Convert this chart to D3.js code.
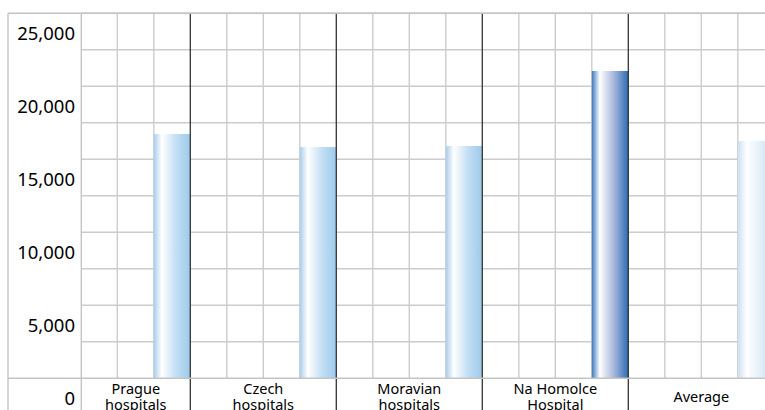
<!DOCTYPE html>
<html>
<head>
<meta charset="utf-8">
<script src="https://cdn.jsdelivr.net/npm/d3@7"></script>
<style>
  html, body { margin: 0; padding: 0; background: #fff; }
  svg { display: block; font-family: "Noto Sans", "Open Sans", sans-serif; }
</style>
</head>
<body>
<svg id="chart" width="765" height="410"></svg>
<script>
// data
const categories = ['Prague hospitals', 'Czech hospitals', 'Moravian hospitals', 'Na Homolce Hospital', 'Average'];
const labelLines = [['Prague', 'hospitals'], ['Czech', 'hospitals'], ['Moravian', 'hospitals'], ['Na Homolce', 'Hospital'], ['Average']];
const values = [16730, 15840, 15910, 21050, 16260];
const highlight = [false, false, false, true, false];
const yTicks = [0, 5000, 10000, 15000, 20000, 25000];

const svg = d3.select('#chart');
const frameLeft = 8, frameTop = 13.3, plotLeft = 81.3, baseY = 378.3, W = 765, H = 410;
const step = 36.5;

const y = d3.scaleLinear().domain([0, 25000]).range([baseY, frameTop]);
// first category is partly hidden behind the label column
const x = d3.scaleBand().domain(categories).range([190.3 - 4 * step, 190.3 + 16 * step]).padding(0);

const defs = svg.append('defs');
defs.append('clipPath').attr('id', 'plotclip')
  .append('rect').attr('x', plotLeft).attr('y', 0).attr('width', W - plotLeft).attr('height', H);

function grad(id, stops) {
  const g = defs.append('linearGradient').attr('id', id).attr('x1', 0).attr('x2', 1).attr('y1', 0).attr('y2', 0);
  stops.forEach(s => g.append('stop').attr('offset', s[0]).attr('stop-color', s[1]));
}
grad('gLight', [[0, '#a9cdec'], [0.22, '#ffffff'], [0.6, '#c4dff4'], [1, '#9ccaec']]);
grad('gDark', [[0, '#3a78bc'], [0.22, '#ffffff'], [0.6, '#a9b7dc'], [1, '#2d6cb3']]);
grad('gAvg', [[0, '#cde0f3'], [0.25, '#ffffff'], [1, '#c6def3']]);

const plot = svg.append('g').attr('clip-path', 'url(#plotclip)');

// horizontal grid every 2500
const hLines = d3.range(2500, 25001, 2500);
plot.selectAll('line.h').data(hLines).join('line')
  .attr('x1', plotLeft).attr('x2', W)
  .attr('y1', d => y(d)).attr('y2', d => y(d))
  .attr('stroke', '#cccccc').attr('stroke-width', 1.4);

// vertical minor grid (quarters of each category)
const minor = [];
categories.forEach(c => { for (let k = 1; k < 4; k++) minor.push(x(c) + k * x.bandwidth() / 4); });
plot.selectAll('line.v').data(minor).join('line')
  .attr('x1', d => d).attr('x2', d => d)
  .attr('y1', frameTop).attr('y2', baseY)
  .attr('stroke', '#cccccc').attr('stroke-width', 1.4);

// bars in the last quarter of each category
plot.selectAll('rect.bar').data(values).join('rect')
  .attr('x', (d, i) => x(categories[i]) + 3 * x.bandwidth() / 4)
  .attr('width', x.bandwidth() / 4)
  .attr('y', d => y(d))
  .attr('height', d => baseY - y(d))
  .attr('fill', (d, i) => highlight[i] ? 'url(#gDark)' : (i === categories.length - 1 ? 'url(#gAvg)' : 'url(#gLight)'));

// category separators
plot.selectAll('line.sep').data(categories.slice(1)).join('line')
  .attr('x1', d => x(d)).attr('x2', d => x(d))
  .attr('y1', frameTop).attr('y2', H)
  .attr('stroke', '#333333').attr('stroke-width', 1.3);

// frame
svg.append('line').attr('x1', frameLeft).attr('x2', W).attr('y1', frameTop).attr('y2', frameTop)
  .attr('stroke', '#c4c4c4').attr('stroke-width', 1.4);
svg.append('line').attr('x1', frameLeft).attr('x2', W).attr('y1', baseY).attr('y2', baseY)
  .attr('stroke', '#c4c4c4').attr('stroke-width', 1.6);
svg.append('line').attr('x1', frameLeft).attr('x2', frameLeft).attr('y1', frameTop).attr('y2', H)
  .attr('stroke', '#c4c4c4').attr('stroke-width', 1.4);
svg.append('line').attr('x1', plotLeft).attr('x2', plotLeft).attr('y1', frameTop).attr('y2', H)
  .attr('stroke', '#c4c4c4').attr('stroke-width', 1.4);

// y labels sit half a step under their value line
svg.selectAll('text.y').data(yTicks).join('text')
  .attr('x', 75).attr('y', d => y(d) + 19)
  .attr('text-anchor', 'end').attr('dominant-baseline', 'central')
  .attr('font-size', 18.5).attr('fill', '#000')
  .text(d => d3.format(',')(d));

// category labels, centred on the visible part of each cell
const cat = svg.append('g').attr('clip-path', 'url(#plotclip)');
labelLines.forEach((lines, i) => {
  const x0 = Math.max(x(categories[i]), plotLeft);
  const x1 = x(categories[i]) + x.bandwidth();
  const cx = (x0 + x1) / 2;
  const t = cat.append('text').attr('x', cx).attr('text-anchor', 'middle')
    .attr('font-size', 14.5).attr('fill', '#000');
  const y0 = lines.length === 1 ? 402 : 393.5;
  lines.forEach((l, j) => t.append('tspan').attr('x', cx).attr('y', y0 + j * 16.5).text(l));
});
</script>
</body>
</html>
